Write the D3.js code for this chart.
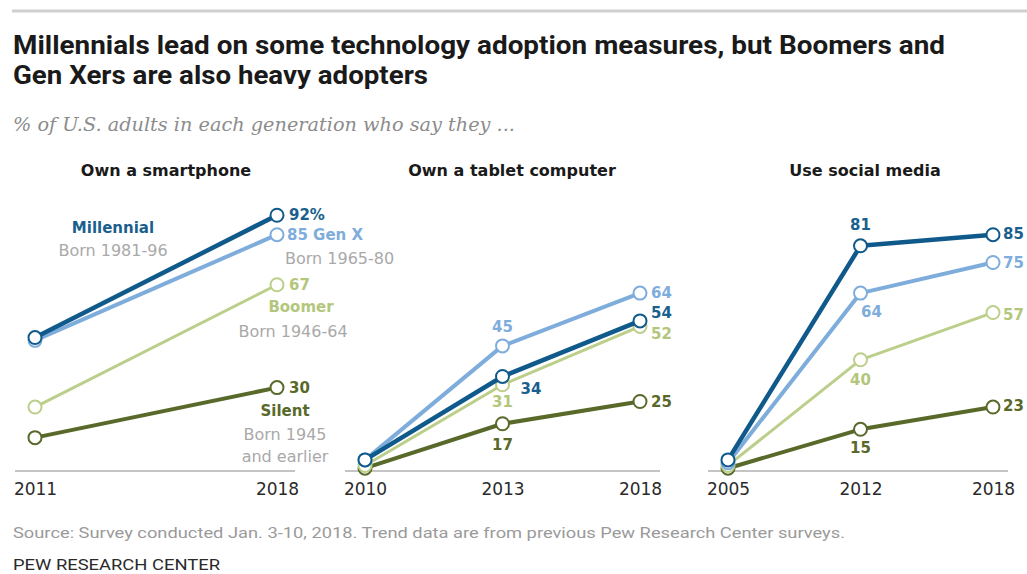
<!DOCTYPE html>
<html>
<head>
<meta charset="utf-8">
<script src="https://cdn.jsdelivr.net/npm/d3@7"></script>
<style>
  body { margin: 0; background: #fff; }
  svg { display: block; font-family: "DejaVu Sans", sans-serif; }
</style>
</head>
<body>
<script>
var w = 1027;
var h = 574;

// generations, drawn bottom to top
var generations = ["Silent", "Boomer", "Gen X", "Millennial"];

var smartphoneYears = [2011, 2018];
var smartphoneSilent = [12, 30];
var smartphoneBoomer = [23, 67];
var smartphoneGenX = [47, 85];
var smartphoneMillennial = [48, 92];

var tabletYears = [2010, 2013, 2018];
var tabletSilent = [1, 17, 25];
var tabletBoomer = [2, 31, 52];
var tabletGenX = [4, 45, 64];
var tabletMillennial = [4, 34, 54];

var socialYears = [2005, 2012, 2018];
var socialSilent = [1, 15, 23];
var socialBoomer = [2, 40, 57];
var socialGenX = [3, 64, 75];
var socialMillennial = [4, 81, 85];

var colors = { "Millennial": "#105a8b", "Gen X": "#7eaddc", "Boomer": "#bccf8a", "Silent": "#58692a" };
var labelColors = { "Millennial": "#1a5f8e", "Gen X": "#7eaddc", "Boomer": "#b3c77c", "Silent": "#58692a" };
var widths = { "Millennial": 4.5, "Gen X": 4, "Boomer": 3, "Silent": 4 };

var panels = [
  { title: "Own a smartphone", years: smartphoneYears,
    series: [smartphoneSilent, smartphoneBoomer, smartphoneGenX, smartphoneMillennial],
    range: [35, 277], base: [15, 295], titleX: 166,
    // label offsets per generation per point: [dx, dy, anchor] or null
    labels: [[null, [12, 0, "start"]], [null, [12, 0, "start"]], [null, [10, 0, "start"]], [null, [12, 0, "start"]]],
    suffix: { "Millennial": "%" } },
  { title: "Own a tablet computer", years: tabletYears,
    series: [tabletSilent, tabletBoomer, tabletGenX, tabletMillennial],
    range: [365, 640], base: [345, 660], titleX: 512,
    labels: [[null, [0, 21, "middle"], [11, 0, "start"]],
             [null, [0, 17, "middle"], [11, 7, "start"]],
             [null, [0, -19, "middle"], [11, 0, "start"]],
             [null, [18, 12, "start"], [11, -8, "start"]]] },
  { title: "Use social media", years: socialYears,
    series: [socialSilent, socialBoomer, socialGenX, socialMillennial],
    range: [728, 993], base: [708, 1008], titleX: 865,
    labels: [[null, [0, 18, "middle"], [10, -1, "start"]],
             [null, [0, 20, "middle"], [10, 2, "start"]],
             [null, [11, 19, "middle"], [10, 0, "start"]],
             [null, [0, -21, "middle"], [10, -1, "start"]]] }
];

var svg = d3.select("body").append("svg")
  .attr("width", w)
  .attr("height", h);

// top rule
svg.append("line")
  .attr("x1", 12).attr("x2", w).attr("y1", 11).attr("y2", 11)
  .attr("stroke", "#cfcfcf").attr("stroke-width", 3);

svg.append("text").attr("x", 13).attr("y", 54)
  .attr("font-family", "Roboto, sans-serif")
  .attr("font-size", 25).attr("font-weight", "bold").attr("fill", "#1a1a1a")
  .attr("textLength", 932).attr("lengthAdjust", "spacingAndGlyphs")
  .text("Millennials lead on some technology adoption measures, but Boomers and");
svg.append("text").attr("x", 13).attr("y", 84)
  .attr("font-family", "Roboto, sans-serif")
  .attr("font-size", 25).attr("font-weight", "bold").attr("fill", "#1a1a1a")
  .attr("textLength", 415).attr("lengthAdjust", "spacingAndGlyphs")
  .text("Gen Xers are also heavy adopters");

svg.append("text").attr("x", 13).attr("y", 131)
  .attr("font-family", "'DejaVu Serif', serif").attr("font-style", "italic")
  .attr("font-size", 18).attr("fill", "#8c8c8c")
  .attr("textLength", 502).attr("lengthAdjust", "spacingAndGlyphs")
  .text("% of U.S. adults in each generation who say they ...");

var yScale = d3.scaleLinear().domain([0, 100]).range([471, 193]);

panels.forEach(function(p) {
  var xScale = d3.scalePoint().domain(p.years).range(p.range);
  var g = svg.append("g");

  g.append("text").attr("x", p.titleX).attr("y", 176)
    .attr("text-anchor", "middle").attr("font-size", 16).attr("font-weight", "bold")
    .attr("fill", "#1a1a1a").text(p.title);

  g.append("line")
    .attr("x1", p.base[0]).attr("x2", p.base[1]).attr("y1", 471).attr("y2", 471)
    .attr("stroke", "#c4c4c4").attr("stroke-width", 2);

  var axis = g.append("g").attr("transform", "translate(0,471)")
    .call(d3.axisBottom(xScale).tickSize(0).tickPadding(12));
  axis.select(".domain").remove();
  axis.selectAll("text").attr("font-size", 17).attr("fill", "#2a2a2a")
    .attr("font-family", "'DejaVu Sans', sans-serif");

  var line = d3.line()
    .x(function(d, i) { return xScale(p.years[i]); })
    .y(function(d) { return yScale(d); });

  p.series.forEach(function(vals, gi) {
    var gen = generations[gi];
    g.append("path").datum(vals)
      .attr("d", line)
      .attr("fill", "none")
      .attr("stroke", colors[gen])
      .attr("stroke-width", widths[gen])
      .attr("stroke-linejoin", "round");
    g.selectAll(".pt" + gi).data(vals).enter().append("circle")
      .attr("cx", function(d, i) { return xScale(p.years[i]); })
      .attr("cy", function(d) { return yScale(d); })
      .attr("r", 6.5)
      .attr("fill", "#fff")
      .attr("stroke", colors[gen])
      .attr("stroke-width", 2);
  });

  p.series.forEach(function(vals, gi) {
    var gen = generations[gi];
    vals.forEach(function(v, i) {
      var l = p.labels[gi][i];
      if (!l) return;
      var suffix = (p.suffix && p.suffix[gen] && i === vals.length - 1) ? p.suffix[gen] : "";
      var t = g.append("text")
        .attr("x", xScale(p.years[i]) + l[0])
        .attr("y", yScale(v) + l[1])
        .attr("dy", "0.35em")
        .attr("text-anchor", l[2])
        .attr("font-size", 15).attr("font-weight", "bold")
        .attr("fill", labelColors[gen])
        .text(v + suffix);
      // Gen X name sits right after its smartphone value
      if (p === panels[0] && gen === "Gen X") t.append("tspan").text(" Gen X");
    });
  });
});

// generation name annotations in the smartphone panel
var gray = "#a9a9a9";
function note(x, y, txt, color, bold, anchor) {
  svg.append("text").attr("x", x).attr("y", y).attr("dy", "0.35em")
    .attr("text-anchor", anchor || "middle")
    .attr("font-size", bold ? 15 : 16).attr("font-weight", bold ? "bold" : "normal")
    .attr("fill", color).text(txt);
}
note(113, 228, "Millennial", labelColors["Millennial"], true);
note(113, 250, "Born 1981-96", gray, false);
note(285, 258, "Born 1965-80", gray, false, "start");
note(301, 307, "Boomer", labelColors["Boomer"], true);
note(293, 331, "Born 1946-64", gray, false);
note(285, 411, "Silent", labelColors["Silent"], true);
note(285, 434, "Born 1945", gray, false);
note(285, 456, "and earlier", gray, false);

svg.append("text").attr("x", 13).attr("y", 538)
  .attr("font-size", 15).attr("fill", "#9a9a9a")
  .attr("font-family", "Roboto, sans-serif")
  .attr("textLength", 832).attr("lengthAdjust", "spacingAndGlyphs")
  .text("Source: Survey conducted Jan. 3-10, 2018. Trend data are from previous Pew Research Center surveys.");

svg.append("text").attr("x", 13).attr("y", 570)
  .attr("font-size", 15).attr("fill", "#2a2a2a")
  .attr("font-family", "Roboto, sans-serif")
  .attr("textLength", 207).attr("lengthAdjust", "spacingAndGlyphs")
  .text("PEW RESEARCH CENTER");
</script>
</body>
</html>
